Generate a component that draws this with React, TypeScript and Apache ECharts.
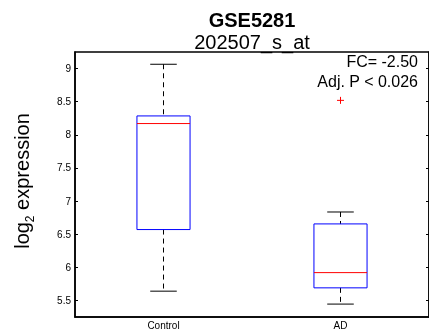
import React, { useEffect, useRef } from "react";
import * as echarts from "echarts";

const categories = ["Control", "AD"];
const whiskerLow = [5.64, 5.445];
const q1 = [6.57, 5.69];
const median = [8.17, 5.92];
const q3 = [8.285, 6.655];
const whiskerHigh = [9.065, 6.835];
const outliers = [[1, 8.52]];
const yTicks = [5.5, 6, 6.5, 7, 7.5, 8, 8.5, 9];
const titleText = "GSE5281";
const subtitleText = "202507_s_at";
const fcText = "FC= -2.50";
const pText = "Adj. P < 0.026";

const FONT = "'Liberation Sans', Arial, Helvetica, sans-serif";

export default function App() {
  const ref = useRef<HTMLDivElement>(null);
  useEffect(() => {
    if (!ref.current) return;
    const chart = echarts.init(ref.current, undefined, { renderer: "svg" });
    const boxData = categories.map((_, i) => [i, whiskerLow[i], q1[i], median[i], q3[i], whiskerHigh[i]]);
    chart.setOption({
      animation: false,
      textStyle: { fontFamily: FONT },
      grid: {
        left: 75,
        top: 52,
        width: 356,
        height: 265,
        show: true,
        borderColor: "#000",
        borderWidth: 1.5,
        backgroundColor: "transparent",
      },
      xAxis: {
        type: "category",
        data: categories,
        boundaryGap: true,
        axisLine: { show: true, lineStyle: { color: "#000", width: 1.5 } },
        axisTick: { show: false },
        axisLabel: { color: "#000", fontSize: 10, margin: 3, fontFamily: FONT },
        splitLine: { show: false },
      },
      yAxis: [
        {
          type: "value",
          min: 5.25,
          max: 9.25,
          position: "left",
          axisLine: { show: true, lineStyle: { color: "#000", width: 1.5 } },
          axisTick: { show: true, inside: true, length: 3, customValues: yTicks, lineStyle: { color: "#000" } },
          axisLabel: { color: "#000", fontSize: 10, margin: 4, customValues: yTicks, fontFamily: FONT },
          splitLine: { show: false },
        },
        {
          type: "value",
          min: 5.25,
          max: 9.25,
          position: "right",
          axisLine: { show: true, lineStyle: { color: "#000", width: 1.5 } },
          axisTick: { show: true, inside: true, length: 3, customValues: yTicks, lineStyle: { color: "#000" } },
          axisLabel: { show: false },
          splitLine: { show: false },
        },
      ],
      series: [
        {
          type: "custom",
          data: boxData,
          encode: { x: 0, y: [1, 2, 3, 4, 5] },
          renderItem: (params: any, api: any) => {
            const i = api.value(0);
            const pLo = api.coord([i, api.value(1)]);
            const pQ1 = api.coord([i, api.value(2)]);
            const pMed = api.coord([i, api.value(3)]);
            const pQ3 = api.coord([i, api.value(4)]);
            const pHi = api.coord([i, api.value(5)]);
            const bw = api.size([1, 0])[0] * 0.3;
            const x = pLo[0];
            const dash = { stroke: "#000", lineWidth: 1, lineDash: [5, 4], fill: "none" };
            const solid = { stroke: "#000", lineWidth: 1, fill: "none" };
            return {
              type: "group",
              children: [
                { type: "line", shape: { x1: x, y1: pHi[1], x2: x, y2: pQ3[1] }, style: dash },
                { type: "line", shape: { x1: x, y1: pQ1[1], x2: x, y2: pLo[1] }, style: dash },
                { type: "line", shape: { x1: x - bw / 4, y1: pHi[1], x2: x + bw / 4, y2: pHi[1] }, style: solid },
                { type: "line", shape: { x1: x - bw / 4, y1: pLo[1], x2: x + bw / 4, y2: pLo[1] }, style: solid },
                {
                  type: "rect",
                  shape: { x: x - bw / 2, y: pQ3[1], width: bw, height: pQ1[1] - pQ3[1] },
                  style: { stroke: "#0000ff", lineWidth: 1, fill: "none" },
                },
                {
                  type: "line",
                  shape: { x1: x - bw / 2, y1: pMed[1], x2: x + bw / 2, y2: pMed[1] },
                  style: { stroke: "#ff0000", lineWidth: 1, fill: "none" },
                },
              ],
            };
          },
        },
        {
          type: "custom",
          data: outliers,
          encode: { x: 0, y: 1 },
          renderItem: (params: any, api: any) => {
            const p = api.coord([api.value(0), api.value(1)]);
            const s = 3.5;
            const st = { stroke: "#ff0000", lineWidth: 1, fill: "none" };
            return {
              type: "group",
              children: [
                { type: "line", shape: { x1: p[0] - s, y1: p[1], x2: p[0] + s, y2: p[1] }, style: st },
                { type: "line", shape: { x1: p[0], y1: p[1] - s, x2: p[0], y2: p[1] + s }, style: st },
              ],
            };
          },
        },
      ],
      graphic: [
        {
          type: "text",
          x: 252,
          y: 20,
          style: { text: titleText, font: `bold 20px ${FONT}`, fill: "#000", align: "center", verticalAlign: "middle" },
        },
        {
          type: "text",
          x: 252,
          y: 42,
          style: { text: subtitleText, font: `20px ${FONT}`, fill: "#000", align: "center", verticalAlign: "middle" },
        },
        {
          type: "text",
          x: 418,
          y: 61,
          style: { text: fcText, font: `16px ${FONT}`, fill: "#000", align: "right", verticalAlign: "middle" },
        },
        {
          type: "text",
          x: 418,
          y: 81,
          style: { text: pText, font: `16px ${FONT}`, fill: "#000", align: "right", verticalAlign: "middle" },
        },
        {
          type: "text",
          x: 20,
          y: 181,
          rotation: Math.PI / 2,
          style: {
            text: "{a|log}{b|2}{a| expression}",
            align: "center",
            verticalAlign: "middle",
            fill: "#000",
            rich: {
              a: { fontSize: 20, fontFamily: FONT, fill: "#000", verticalAlign: "bottom", lineHeight: 24 },
              b: { fontSize: 12, fontFamily: FONT, fill: "#000", verticalAlign: "bottom", lineHeight: 24, padding: [0, 0, -4, 0] },
            },
          },
        },
      ],
    });
    return () => chart.dispose();
  }, []);
  return <div ref={ref} style={{ position: "fixed", left: 0, top: 0, width: 429, height: 335 }} />;
}
